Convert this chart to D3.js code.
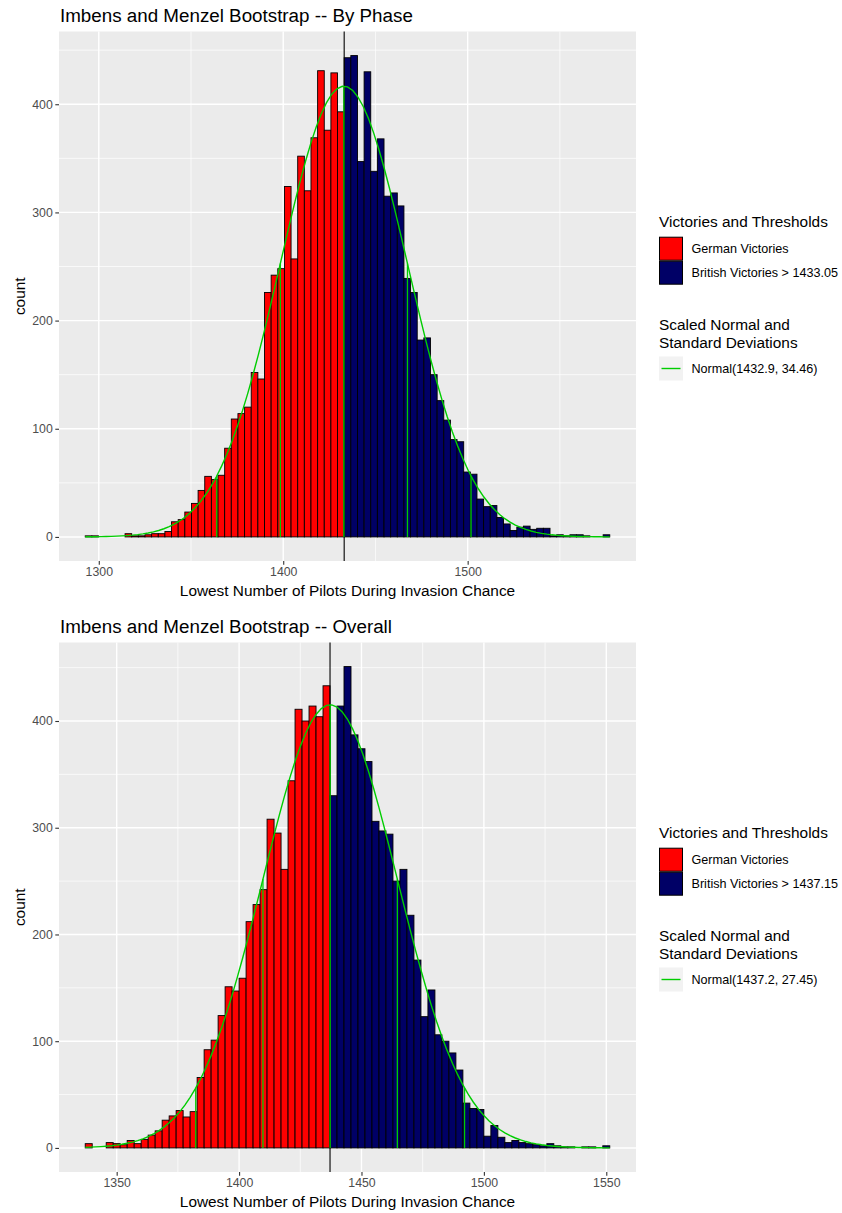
<!DOCTYPE html>
<html>
<head>
<meta charset="utf-8">
<script src="https://cdn.jsdelivr.net/npm/d3@7/dist/d3.min.js"></script>
<style>
  html, body { margin: 0; padding: 0; background: #ffffff; }
  svg { display: block; font-family: "Liberation Sans", Arial, sans-serif; }
</style>
</head>
<body>
<svg id="chart" width="842" height="1213"></svg>
<script>
// ---- Bootstrap histogram data: counts per bin ----
const phaseCounts = [
  1, 1, 0, 0, 0, 0, 3, 1, 1, 2,
  3, 3, 5, 14, 16, 23, 31, 43, 56, 53,
  57, 82, 109, 114, 120, 152, 146, 226, 242, 248,
  324, 257, 352, 320, 369, 431, 376, 429, 393, 443,
  445, 347, 430, 338, 368, 315, 318, 306, 239, 226,
  182, 184, 150, 126, 108, 90, 88, 60, 58, 35,
  28, 29, 18, 12, 6, 9, 10, 7, 8, 8,
  1, 2, 1, 2, 2, 1, 0, 0, 2
];
const phaseBinStart = 1292.65;
const phaseBinWidth = 3.6;
const phaseThreshold = 1433.05;
const phaseMean = 1432.9;
const phaseSd = 34.46;
const phaseXTicks = [1300, 1400, 1500];
const phaseXMinor = [1350, 1450, 1550];

const overallCounts = [
  4, 0, 0, 5, 4, 3, 7, 4, 8, 12,
  16, 26, 30, 35, 29, 34, 66, 92, 101, 124,
  151, 147, 159, 212, 228, 242, 308, 295, 261, 344,
  411, 400, 414, 404, 433, 330, 414, 451, 387, 374,
  362, 306, 297, 294, 250, 261, 218, 176, 123, 148,
  106, 100, 89, 73, 42, 37, 36, 11, 21, 10,
  5, 7, 5, 4, 3, 2, 4, 2, 1, 1,
  0, 1, 1, 0, 2
];
const overallBinStart = 1337.15;
const overallBinWidth = 2.857;
const overallThreshold = 1437.15;
const overallMean = 1437.2;
const overallSd = 27.45;
const overallXTicks = [1350, 1400, 1450, 1500, 1550];
const overallXMinor = [1375, 1425, 1475, 1525];

const yTicks = [0, 100, 200, 300, 400];
const yMinor = [50, 150, 250, 350, 450];
const sdMultiples = [-2, -1, 0, 1, 2];
const sampleSize = 10000;

const titles = ["Imbens and Menzel Bootstrap -- By Phase", "Imbens and Menzel Bootstrap -- Overall"];
const xAxisTitle = "Lowest Number of Pilots During Invasion Chance";
const yAxisTitle = "count";
const fillLegendTitle = "Victories and Thresholds";
const germanLabel = "German Victories";
const normalLegendTitle = ["Scaled Normal and", "Standard Deviations"];

// ---- Styling ----
const RED = "#ff0000";
const NAVY = "#000066";
const GREEN = "#00cd00";
const PANEL_BG = "#ebebeb";
const FS_TITLE = "18.8px";
const FS_AXIS_TITLE = "15.4px";
const FS_TICK = "12.3px";
const FS_LEGEND_LABEL = "12.6px";

const svg = d3.select("#chart");

function normalPdf(x, mu, s) {
  return Math.exp(-0.5 * ((x - mu) / s) ** 2) / (s * Math.sqrt(2 * Math.PI));
}

function drawChart(spec, offsetY) {
  const panel = { left: 59, right: 636, top: 31.5 + offsetY, bottom: 561 + offsetY };
  const g = svg.append("g");

  const bins = spec.counts.map((c, i) => ({
    x0: spec.binStart + i * spec.binWidth,
    x1: spec.binStart + (i + 1) * spec.binWidth,
    count: c
  }));
  const lo = bins[0].x0, hi = bins[bins.length - 1].x1;
  const padX = (hi - lo) * 0.05;
  const maxC = d3.max(spec.counts);
  const padY = maxC * 0.05;

  const x = d3.scaleLinear().domain([lo - padX, hi + padX]).range([panel.left, panel.right]);
  const y = d3.scaleLinear().domain([-padY, maxC + padY]).range([panel.bottom, panel.top]);

  // panel background
  g.append("rect")
    .attr("x", panel.left).attr("y", panel.top)
    .attr("width", panel.right - panel.left).attr("height", panel.bottom - panel.top)
    .attr("fill", PANEL_BG);

  // grid lines
  const grid = g.append("g").attr("stroke", "#ffffff");
  grid.selectAll(".ymin").data(yMinor).join("line")
    .attr("x1", panel.left).attr("x2", panel.right)
    .attr("y1", d => y(d)).attr("y2", d => y(d)).attr("stroke-width", 0.7);
  grid.selectAll(".xmin").data(spec.xMinor).join("line")
    .attr("y1", panel.top).attr("y2", panel.bottom)
    .attr("x1", d => x(d)).attr("x2", d => x(d)).attr("stroke-width", 0.7);
  grid.selectAll(".ymaj").data(yTicks).join("line")
    .attr("x1", panel.left).attr("x2", panel.right)
    .attr("y1", d => y(d)).attr("y2", d => y(d)).attr("stroke-width", 1.4);
  grid.selectAll(".xmaj").data(spec.xTicks).join("line")
    .attr("y1", panel.top).attr("y2", panel.bottom)
    .attr("x1", d => x(d)).attr("x2", d => x(d)).attr("stroke-width", 1.4);

  // histogram bars
  g.append("g").selectAll("rect").data(bins).join("rect")
    .attr("x", d => x(d.x0))
    .attr("y", d => y(d.count))
    .attr("width", d => x(d.x1) - x(d.x0))
    .attr("height", d => y(0) - y(d.count))
    .attr("fill", d => ((d.x0 + d.x1) / 2 < spec.threshold ? RED : NAVY))
    .attr("stroke", d => d.count > 0 ? "#000000" : "none")
    .attr("stroke-width", 0.9);

  // threshold line
  g.append("line")
    .attr("x1", x(spec.threshold)).attr("x2", x(spec.threshold))
    .attr("y1", panel.top).attr("y2", panel.bottom)
    .attr("stroke", "#000000").attr("stroke-width", 1.1);

  // scaled normal curve
  const scale = sampleSize * spec.binWidth;
  const curveX = d3.range(101).map(i => lo + (hi - lo) * i / 100);
  const line = d3.line().x(d => x(d)).y(d => y(scale * normalPdf(d, spec.mean, spec.sd)));
  g.append("path").datum(curveX)
    .attr("d", line).attr("fill", "none")
    .attr("stroke", GREEN).attr("stroke-width", 1.4);

  // standard deviation markers
  g.append("g").selectAll("line").data(sdMultiples).join("line")
    .attr("x1", k => x(spec.mean + k * spec.sd)).attr("x2", k => x(spec.mean + k * spec.sd))
    .attr("y1", y(0))
    .attr("y2", k => y(scale * normalPdf(spec.mean + k * spec.sd, spec.mean, spec.sd)))
    .attr("stroke", GREEN).attr("stroke-width", 1.3);

  // axes
  const xAxis = d3.axisBottom(x).tickValues(spec.xTicks).tickSize(3.7).tickPadding(2.5).tickFormat(d3.format("d"));
  const xg = g.append("g").attr("transform", `translate(0,${panel.bottom})`).call(xAxis);
  const yAxis = d3.axisLeft(y).tickValues(yTicks).tickSize(3.7).tickPadding(2.5).tickFormat(d3.format("d"));
  const yg = g.append("g").attr("transform", `translate(${panel.left},0)`).call(yAxis);
  [xg, yg].forEach(a => {
    a.select(".domain").remove();
    a.selectAll(".tick line").attr("stroke", "#333333").attr("stroke-width", 1.1);
    a.selectAll(".tick text").attr("fill", "#4d4d4d").style("font-size", FS_TICK)
      .style("font-family", "'Liberation Sans', Arial, sans-serif");
  });

  // titles
  g.append("text").attr("x", panel.left + 1).attr("y", 21.5 + offsetY)
    .style("font-size", FS_TITLE).attr("fill", "#000").text(spec.title);
  g.append("text").attr("x", (panel.left + panel.right) / 2).attr("y", 596 + offsetY)
    .attr("text-anchor", "middle").style("font-size", FS_AXIS_TITLE).attr("fill", "#000").text(xAxisTitle);
  g.append("text")
    .attr("transform", `translate(25,${(panel.top + panel.bottom) / 2}) rotate(-90)`)
    .attr("text-anchor", "middle").style("font-size", FS_AXIS_TITLE).attr("fill", "#000").text(yAxisTitle);

  // legends
  const lg = g.append("g");
  const lx = 659;
  lg.append("text").attr("x", lx).attr("y", 226.7 + offsetY)
    .style("font-size", FS_AXIS_TITLE).text(fillLegendTitle);
  const keys = [
    { fill: RED, label: germanLabel },
    { fill: NAVY, label: `British Victories > ${spec.threshold}` }
  ];
  keys.forEach((k, i) => {
    const ky = 236.7 + i * 24 + offsetY;
    lg.append("rect").attr("x", lx + 0.5).attr("y", ky + 0.5).attr("width", 23).attr("height", 23)
      .attr("fill", k.fill).attr("stroke", "#000").attr("stroke-width", 1);
    lg.append("text").attr("x", lx + 32.5).attr("y", ky + 16.5)
      .style("font-size", FS_LEGEND_LABEL).text(k.label);
  });
  normalLegendTitle.forEach((t, i) => {
    lg.append("text").attr("x", lx).attr("y", 330 + i * 17.5 + offsetY)
      .style("font-size", FS_AXIS_TITLE).text(t);
  });
  const ny = 356.5 + offsetY;
  lg.append("rect").attr("x", lx).attr("y", ny).attr("width", 24).attr("height", 24).attr("fill", "#f2f2f2");
  lg.append("line").attr("x1", lx + 2.5).attr("x2", lx + 21.5).attr("y1", ny + 12).attr("y2", ny + 12)
    .attr("stroke", GREEN).attr("stroke-width", 1.4);
  lg.append("text").attr("x", lx + 32.5).attr("y", ny + 16.5)
    .style("font-size", FS_LEGEND_LABEL).text(`Normal(${spec.mean}, ${spec.sd})`);
}

drawChart({
  title: titles[0], counts: phaseCounts, binStart: phaseBinStart, binWidth: phaseBinWidth,
  threshold: phaseThreshold, mean: phaseMean, sd: phaseSd, xTicks: phaseXTicks, xMinor: phaseXMinor
}, 0);

drawChart({
  title: titles[1], counts: overallCounts, binStart: overallBinStart, binWidth: overallBinWidth,
  threshold: overallThreshold, mean: overallMean, sd: overallSd, xTicks: overallXTicks, xMinor: overallXMinor
}, 611);
</script>
</body>
</html>
